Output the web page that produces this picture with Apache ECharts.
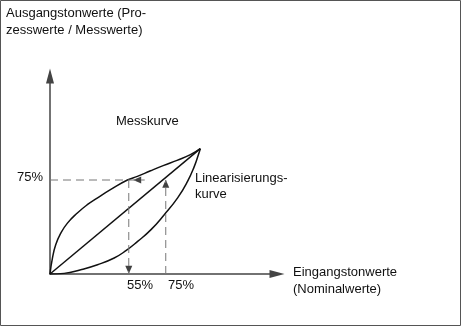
<!DOCTYPE html>
<html><head><meta charset="utf-8">
<script src="https://cdn.jsdelivr.net/npm/echarts@6/dist/echarts.min.js"></script>
<style>html,body{margin:0;padding:0;background:#fff}#c{width:461px;height:326px}</style>
</head><body><div id="c"></div>
<script>
// Messkurve (upper curve), percent of input / output
const upperX = [0, 1.65, 3.8, 7.1, 11.6, 18.2, 24.8, 31.4, 40.2, 51.5, 58.1, 66.9, 75.7, 84.5, 93.4, 100];
const upperY = [0, 12.8, 23.4, 32.5, 40.6, 48.7, 55.3, 60.6, 67.3, 75, 77.9, 82.4, 86.7, 90.7, 95.2, 100];
// lower curve
const lowerX = [0, 9.4, 20.5, 31.6, 42.7, 50.5, 58.3, 67.2, 76, 84.9, 91.5, 96, 98.7, 100];
const lowerY = [0, 0.5, 3.4, 7.4, 12.8, 18.6, 26, 35.4, 47.3, 60.7, 73.9, 85.9, 95.2, 100];
// Linearisierungskurve (straight line)
const linX = [0, 100];
const linY = [0, 100];
// dashed guides
const hGuideX = [0, 63], hGuideY = [75, 75];
const v1GuideX = [77, 77], v1GuideY = [0, 75];
const v2GuideX = [52.4, 52.4], v2GuideY = [75, 0];
// arrowheads on guides: x, y, rotation
const arrowX = [58, 77, 52.4];
const arrowY = [75, 72, 3.4];
const arrowRot = [90, 0, 180];
// texts
const yTitle = 'Ausgangstonwerte (Pro-\nzesswerte / Messwerte)';
const xTitle = 'Eingangstonwerte\n(Nominalwerte)';
const curveLabel = 'Messkurve';
const linLabel = 'Linearisierungs-\nkurve';
const yTick = '75%';
const xTicks = ['55%', '75%'];

const zip = (a, b) => a.map((v, i) => [v, b[i]]);
const FONT = '"Liberation Sans", Arial, sans-serif';
const axisColor = '#444';

const chart = echarts.init(document.getElementById('c'), null, {renderer: 'canvas'});
const dashed = {color: '#777', width: 1, type: [8, 5]};
const txt = (x, y, text, lh) => ({
  type: 'text', x: x, y: y,
  style: {text: text, font: '13px ' + FONT, fill: '#111', lineHeight: lh || 17, verticalAlign: 'top'}
});

chart.setOption({
  animation: false,
  backgroundColor: '#fff',
  grid: {left: 50, top: 76, width: 227, height: 198},
  xAxis: {type: 'value', min: 0, max: 151,
    axisLine: {show: true, onZero: false, symbol: ['none', 'triangle'], symbolSize: [8, 15],
      lineStyle: {color: axisColor, width: 1.5}},
    axisTick: {show: false}, axisLabel: {show: false}, splitLine: {show: false}},
  yAxis: {type: 'value', min: 0, max: 158,
    axisLine: {show: true, onZero: false, symbol: ['none', 'triangle'], symbolSize: [8, 15],
      lineStyle: {color: axisColor, width: 1.5}},
    axisTick: {show: false}, axisLabel: {show: false}, splitLine: {show: false}},
  series: [
    {type: 'line', data: zip(upperX, upperY), smooth: 0.5, symbol: 'none',
      lineStyle: {color: '#111', width: 1.5}},
    {type: 'line', data: zip(lowerX, lowerY), smooth: 0.5, symbol: 'none',
      lineStyle: {color: '#111', width: 1.5}},
    {type: 'line', data: zip(linX, linY), symbol: 'none',
      lineStyle: {color: '#111', width: 1.5}},
    {type: 'line', data: zip(hGuideX, hGuideY), symbol: 'none', lineStyle: dashed},
    {type: 'line', data: zip(v1GuideX, v1GuideY), symbol: 'none', lineStyle: dashed},
    {type: 'line', data: zip(v2GuideX, v2GuideY), symbol: 'none', lineStyle: dashed},
    {type: 'scatter', symbol: 'triangle', symbolSize: [7, 8],
      data: arrowX.map((x, i) => ({value: [x, arrowY[i]], symbolRotate: arrowRot[i]})),
      itemStyle: {color: '#111'}}
  ],
  graphic: [
    {type: 'rect', shape: {x: 0.5, y: 0.5, width: 460, height: 325},
      style: {fill: 'none', stroke: '#555', lineWidth: 1}},
    txt(6, 5, yTitle),
    txt(116, 113, curveLabel),
    txt(17, 169, yTick),
    txt(195, 170, linLabel, 16),
    txt(127, 277, xTicks[0]),
    txt(168, 277, xTicks[1]),
    txt(293, 264, xTitle)
  ]
});
</script></body></html>
